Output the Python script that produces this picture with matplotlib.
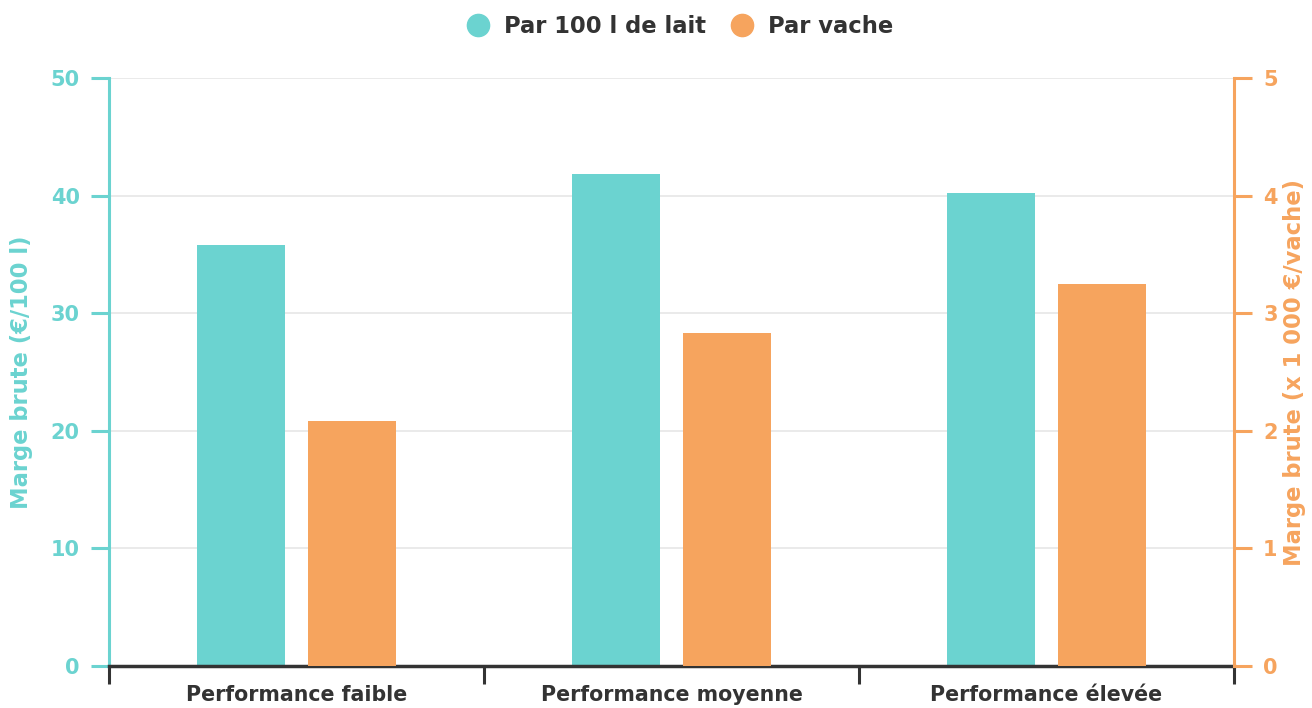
import numpy as np
import matplotlib.pyplot as plt

# Marge brute selon le niveau de performance
categories = ["Performance faible", "Performance moyenne", "Performance élevée"]
par_100l = [35.8, 41.8, 40.2]      # €/100 l
par_vache = [2.08, 2.83, 3.25]     # x 1 000 €/vache

teal = "#6bd3d0"
orange = "#f6a45e"
dark = "#333333"

plt.rcParams['font.family'] = ['DejaVu Sans']
plt.rcParams['font.weight'] = 'bold'

fig = plt.figure(figsize=(13.12, 7.08), dpi=100)
ax = fig.add_axes([0.0831, 0.0593, 0.8574, 0.8305])
ax2 = ax.twinx()

x = np.arange(len(categories))
w = 0.237
off = 0.148
ax.bar(x - off, par_100l, w, color=teal, zorder=3, label="Par 100 l de lait")
ax2.bar(x + off, par_vache, w, color=orange, zorder=3, label="Par vache")

ax.set_xlim(-0.5, 2.5)
ax.set_ylim(0, 50)
ax2.set_ylim(0, 5)
ax.set_yticks(range(0, 51, 10))
ax2.set_yticks(range(0, 6))

ax.grid(axis='y', color='#e6e6e6', linewidth=1.2, zorder=0)
ax.set_axisbelow(True)

# axes colours
for a in (ax, ax2):
    a.spines['top'].set_visible(False)
    a.spines['bottom'].set_visible(False)
ax.spines['right'].set_visible(False)
ax2.spines['left'].set_visible(False)
ax.spines['left'].set_color(teal)
ax.spines['left'].set_linewidth(2.2)
ax2.spines['right'].set_color(orange)
ax2.spines['right'].set_linewidth(2.2)

ax.tick_params(axis='y', colors=teal, length=13, width=2.2, labelsize=15, pad=8)
ax2.tick_params(axis='y', colors=orange, length=13, width=2.2, labelsize=15, pad=8)

# category axis: dark baseline with boundary ticks
ax.axhline(0, color=dark, linewidth=2.5, zorder=4, clip_on=False)
ax.set_xticks([-0.5, 0.5, 1.5, 2.5])
ax.set_xticklabels([])
ax.tick_params(axis='x', colors=dark, length=13, width=2.2)
ax.set_xticks(x, minor=True)
ax.set_xticklabels(categories, minor=True, fontsize=14.8, color=dark)
ax.tick_params(axis='x', which='minor', length=0, pad=14)

ax.set_ylabel("Marge brute (€/100 l)", color=teal, fontsize=16.3,
              fontweight='bold', labelpad=13)
ax2.set_ylabel("Marge brute (x 1 000 €/vache)", color=orange, fontsize=16.3,
               fontweight='bold', labelpad=4)

h1, l1 = ax.get_legend_handles_labels()
h2, l2 = ax2.get_legend_handles_labels()
handles = [plt.Line2D([], [], marker='o', linestyle='', markersize=16, color=c) for c in (teal, orange)]
fig.legend(handles, l1 + l2, loc='upper center', bbox_to_anchor=(0.514, 1.008), ncol=2,
           frameon=False, fontsize=16.3, handletextpad=0.15, columnspacing=0.6,
           labelcolor=dark)

fig.savefig("out.png", dpi=100)
